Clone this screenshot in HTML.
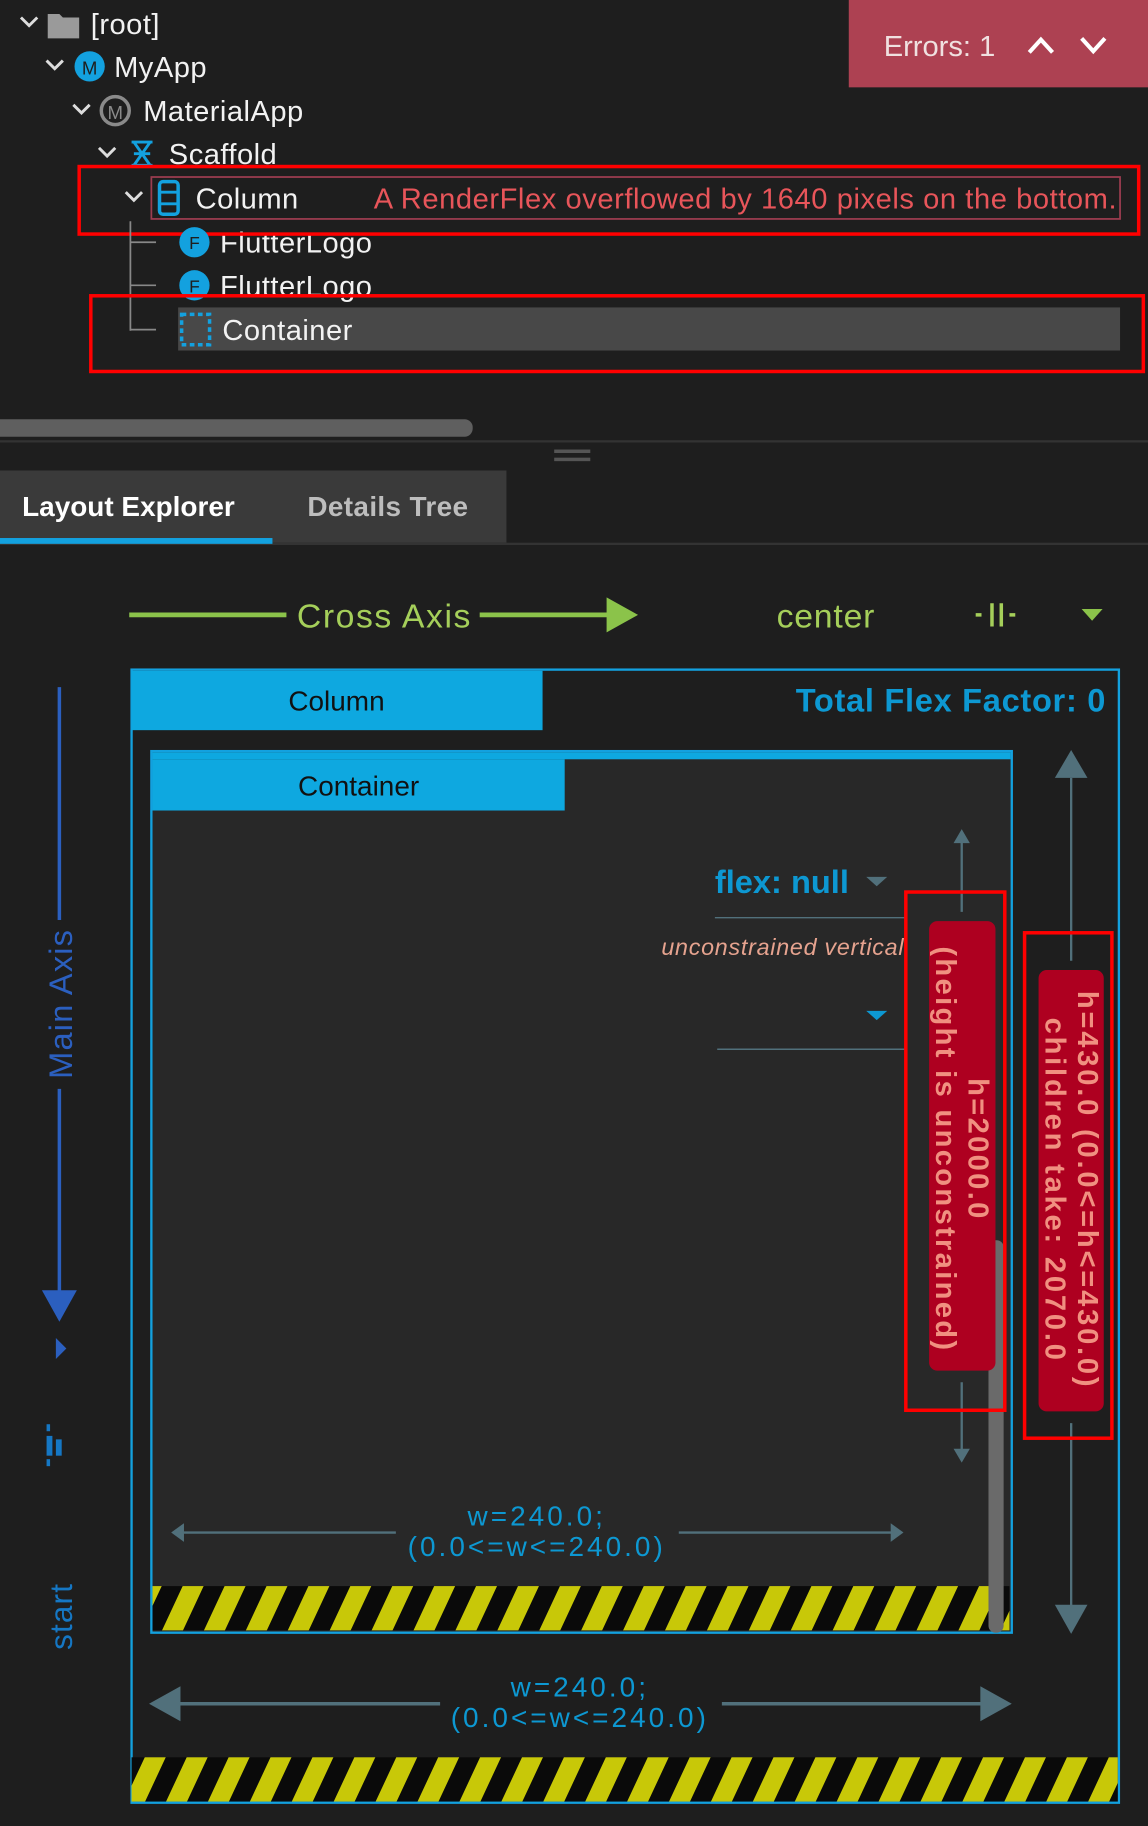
<!DOCTYPE html>
<html><head><meta charset="utf-8"><style>
html,body{margin:0;padding:0;background:#1e1e1e;width:1148px;height:1826px;overflow:hidden}
svg{display:block}
text{font-family:"Liberation Sans",sans-serif}
</style></head><body>
<svg width="1148" height="1826" viewBox="0 0 986 1568" preserveAspectRatio="none" xmlns="http://www.w3.org/2000/svg">
<defs>
<pattern id="hz" patternUnits="userSpaceOnUse" width="36" height="200" patternTransform="skewX(-25)">
<rect x="0" y="0" width="36" height="200" fill="#0a0a0a"/>
<rect x="0" y="0" width="18" height="200" fill="#c8c808"/>
</pattern>
</defs>
<rect width="986" height="1568" fill="#1e1e1e"/>
<g fill="none" stroke="#ddd" stroke-width="2.5">
<polyline points="18,15 25,22 32,15"/><polyline points="40,52 47,59 54,52"/><polyline points="63,90 70,97 77,90"/><polyline points="85,127 92,134 99,127"/><polyline points="108,165 115,172 122,165"/>
</g>
<path d="M41,12 h10 l3,3 h14 v18 h-27z" fill="#9a9a9a"/>
<g font-size="25" fill="#f2f2f2" letter-spacing="0.4">
<text x="78" y="29">[root]</text>
<text x="98" y="66">MyApp</text>
<text x="123" y="104">MaterialApp</text>
<text x="145" y="141">Scaffold</text>
<text x="168" y="179">Column</text>
<text x="189" y="217">FlutterLogo</text>
<text x="189" y="254">FlutterLogo</text>
</g>
<circle cx="77" cy="57" r="13" fill="#13a1df"/><text x="77" y="64" font-size="16" fill="#1e1e1e" text-anchor="middle">M</text>
<circle cx="99" cy="95" r="12" fill="none" stroke="#8a8a8a" stroke-width="3"/><text x="99" y="102" font-size="16" fill="#8a8a8a" text-anchor="middle">M</text>
<g stroke="#13a1df" stroke-width="2.5" fill="none"><path d="M113,122 h18 M113,142 h18 M115,122 L129,142 M129,122 L115,142 M115,132 h14"/></g>
<rect x="130" y="152" width="832" height="36" fill="none" stroke="#9c3d50" stroke-width="1.5"/>
<rect x="137" y="156" width="16" height="28" rx="3" fill="none" stroke="#13a1df" stroke-width="3"/><path d="M137,165 h16 M137,175 h16" stroke="#13a1df" stroke-width="2.5"/>
<text x="321" y="179" font-size="25" fill="#e8555a" textLength="638" lengthAdjust="spacing">A RenderFlex overflowed by 1640 pixels on the bottom.</text>
<rect x="68" y="143" width="910" height="58" fill="none" stroke="#ff0000" stroke-width="3"/>
<path d="M112,190 V284 M112,208 h22 M112,245 h22 M112,283 h22" stroke="#888" stroke-width="1.5" fill="none"/>
<circle cx="167" cy="208" r="13" fill="#13a1df"/><text x="167" y="214" font-size="15" fill="#1e1e1e" text-anchor="middle">F</text>
<circle cx="167" cy="245" r="13" fill="#13a1df"/><text x="167" y="251" font-size="15" fill="#1e1e1e" text-anchor="middle">F</text>
<rect x="153" y="264" width="809" height="37" fill="#484848"/>
<text x="191" y="292" font-size="25" fill="#f2f2f2" letter-spacing="0.4">Container</text>
<rect x="156" y="270" width="24" height="26" fill="none" stroke="#13a1df" stroke-width="3" stroke-dasharray="4,3"/>
<rect x="78" y="254" width="904" height="65" fill="none" stroke="#ff0000" stroke-width="3"/>
<rect x="729" y="0" width="257" height="75" fill="#ad4152"/>
<text x="759" y="48" font-size="25" fill="#f0e0e0">Errors: 1</text>
<polyline points="884,45 894,34 904,45" fill="none" stroke="#fff" stroke-width="3.5"/>
<polyline points="929,33 939,44 949,33" fill="none" stroke="#fff" stroke-width="3.5"/>
<rect x="-10" y="360" width="416" height="15" rx="7" fill="#5f5f5f"/>
<rect x="0" y="378" width="986" height="2" fill="#333"/>
<rect x="476" y="386" width="31" height="3" fill="#555"/><rect x="476" y="393" width="31" height="3" fill="#555"/>
<rect x="0" y="404" width="435" height="62" fill="#3a3a3a"/>
<rect x="0" y="466" width="986" height="2" fill="#333"/>
<rect x="0" y="462" width="234" height="5" fill="#13a1df"/>
<text x="19" y="443" font-size="24" font-weight="bold" fill="#fff">Layout Explorer</text>
<text x="264" y="443" font-size="24" font-weight="bold" fill="#bdbdbd" letter-spacing="0.3">Details Tree</text>
<path d="M111,528 H246 M412,528 H525" stroke="#8bc34a" stroke-width="4"/>
<polygon points="521,513 548,528 521,543" fill="#8bc34a"/>
<text x="255" y="539" font-size="29" fill="#a5cf5a" textLength="149" lengthAdjust="spacing">Cross Axis</text>
<text x="667" y="539" font-size="29" fill="#a5cf5a" textLength="84" lengthAdjust="spacing">center</text>
<path d="M838,528 h5 M852,518 v20 M860,518 v20 M867,528 h5" stroke="#a5cf5a" stroke-width="3"/>
<polygon points="929,523 947,523 938,533" fill="#8bc34a"/>
<path d="M51,590 V790 M51,935 V1112" stroke="#2b5fbf" stroke-width="3"/>
<polygon points="36,1108 66,1108 51,1135" fill="#2b5fbf"/>
<polygon points="48,1149 57,1158 48,1167" fill="#2b5fbf"/>
<text transform="translate(62,862) rotate(-90)" font-size="28" fill="#2b5fbf" text-anchor="middle" letter-spacing="1">Main Axis</text>
<g fill="#1577c4"><rect x="40" y="1223" width="3" height="6"/><rect x="40" y="1233" width="5" height="17"/><rect x="40" y="1253" width="3" height="6"/><rect x="48" y="1236" width="5" height="14"/></g>
<text transform="translate(62,1388) rotate(-90)" font-size="27" fill="#1577c4" text-anchor="middle" letter-spacing="1">start</text>
<rect x="113" y="575" width="848" height="973" fill="#1e1e1e" stroke="#13a1df" stroke-width="2"/>
<rect x="113" y="576" width="353" height="51" fill="#0ea8e0"/>
<text x="289" y="610" font-size="24" fill="#111" text-anchor="middle">Column</text>
<text x="950" y="611" font-size="28" font-weight="bold" fill="#0d98d2" text-anchor="end" letter-spacing="0.6">Total Flex Factor: 0</text>
<rect x="130" y="645" width="739" height="757" fill="#282828" stroke="#13a1df" stroke-width="2"/>
<rect x="131" y="646" width="737" height="6" fill="#0ea8e0"/>
<rect x="131" y="652" width="354" height="44" fill="#0ea8e0"/>
<text x="308" y="683" font-size="24" fill="#111" text-anchor="middle">Container</text>
<rect x="131" y="1362" width="736" height="38" fill="url(#hz)"/>
<rect x="113" y="1509" width="847" height="38" fill="url(#hz)"/>
<text x="614" y="767" font-size="28" font-weight="bold" fill="#0d98d2">flex: null</text>
<polygon points="744,753 762,753 753,761" fill="#51707b"/>
<path d="M614,788 H777 M616,901 H777" stroke="#51707b" stroke-width="1.2"/>
<text x="568" y="820" font-size="20" font-style="italic" fill="#e6a38f" textLength="208" lengthAdjust="spacing">unconstrained vertical</text>
<polygon points="744,868 762,868 753,876" fill="#0d98d2"/>
<path d="M826,722 V783 M826,1187 V1246" stroke="#51707b" stroke-width="2"/>
<polygon points="819,724 826,712 833,724" fill="#51707b"/><polygon points="819,1244 826,1256 833,1244" fill="#51707b"/>
<rect x="849" y="1065" width="13" height="337" rx="6" fill="#6a6a6a"/>
<rect x="798" y="791" width="57" height="386" rx="7" fill="#ae0020"/>
<g font-size="25" font-weight="bold" fill="#f09080" text-anchor="middle">
<text transform="translate(826,987) rotate(90)" y="-6" letter-spacing="2">h=2000.0</text>
<text transform="translate(826,987) rotate(90)" y="22" letter-spacing="2">(height is unconstrained)</text>
</g>
<rect x="778" y="766" width="85" height="445" fill="none" stroke="#ff0000" stroke-width="3"/>
<path d="M920,668 V825 M920,1222 V1380" stroke="#51707b" stroke-width="2"/>
<polygon points="906,668 920,644 934,668" fill="#51707b"/><polygon points="906,1378 920,1403 934,1378" fill="#51707b"/>
<rect x="892" y="833" width="56" height="379" rx="7" fill="#ae0020"/>
<g font-size="25" font-weight="bold" fill="#f09080" text-anchor="middle">
<text transform="translate(920,1022) rotate(90)" y="-6" letter-spacing="2.4">h=430.0 (0.0&lt;=h&lt;=430.0)</text>
<text transform="translate(920,1022) rotate(90)" y="22" letter-spacing="2.4">children take: 2070.0</text>
</g>
<rect x="880" y="801" width="75" height="434" fill="none" stroke="#ff0000" stroke-width="3"/>
<path d="M155,1316 H340 M583,1316 H768" stroke="#51707b" stroke-width="2"/>
<polygon points="158,1308 147,1316 158,1324" fill="#51707b"/><polygon points="765,1308 776,1316 765,1324" fill="#51707b"/>
<g font-size="24" fill="#0d98d2" text-anchor="middle" letter-spacing="2.6">
<text x="461" y="1310">w=240.0;</text><text x="461" y="1336">(0.0&lt;=w&lt;=240.0)</text>
<text x="498" y="1457">w=240.0;</text><text x="498" y="1483">(0.0&lt;=w&lt;=240.0)</text>
</g>
<path d="M150,1463 H378 M620,1463 H848" stroke="#51707b" stroke-width="3"/>
<polygon points="155,1448 128,1463 155,1478" fill="#51707b"/><polygon points="842,1448 869,1463 842,1478" fill="#51707b"/>
</svg>
</body></html>
